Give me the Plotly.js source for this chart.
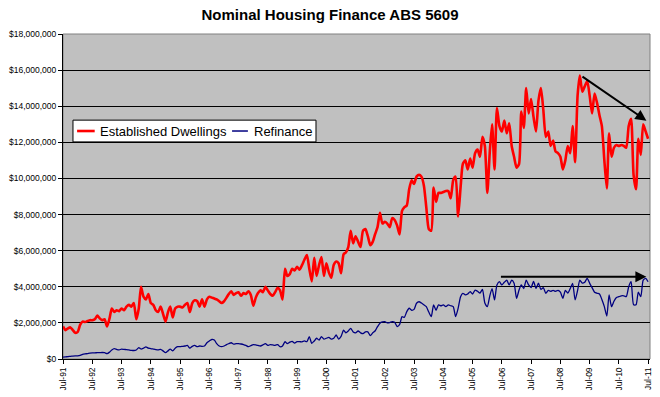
<!DOCTYPE html>
<html>
<head>
<meta charset="utf-8">
<script src="https://cdn.plot.ly/plotly-3.0.1.min.js"></script>
<style>html,body{margin:0;padding:0;background:#fff;}#chart{width:660px;height:397px;}</style>
</head>
<body>
<div id="chart"></div>
<script>
// Monthly data, Jul-1991 to Jul-2011, values in $ millions
const startYear = 1991, startMonth = 7;
const seriesNames = ["Established Dwellings", "Refinance"];
const establishedDwellings = [
  1.8, 1.6, 1.7, 1.75, 1.6, 1.45, 1.5, 1.9, 2.07, 2.05, 2.1, 2.15,
  2.15, 2.2, 2.4, 2.25, 2.15, 2.2, 1.8, 2.25, 2.8, 2.6, 2.7, 2.65,
  2.8, 2.7, 2.9, 3.0, 2.9, 3.1, 2.2, 2.8, 4.0, 3.45, 3.3, 3.6,
  3.1, 3.0, 2.7, 2.6, 2.9, 2.5, 2.07, 2.6, 2.9, 2.3, 2.8, 2.9,
  2.9, 2.85, 3.0, 3.1, 2.6, 3.1, 3.25, 3.2, 2.9, 3.3, 2.9, 3.3,
  3.45, 3.4, 3.35, 3.3, 3.2, 3.1, 3.2, 3.4, 3.6, 3.75, 3.55, 3.65,
  3.7, 3.5, 3.65, 3.6, 3.75, 3.55, 2.95, 3.4, 3.65, 3.8, 3.7, 4.0,
  3.8, 3.6, 3.5, 3.7, 3.95, 3.8, 3.3, 5.0, 4.6, 4.7, 5.0, 4.9,
  5.1, 4.95, 5.2, 5.5, 5.76, 5.0, 4.3, 5.6, 4.6, 5.2, 5.65, 4.6,
  5.3, 4.8, 4.5, 5.2, 5.4, 5.3, 4.75, 5.8, 5.9, 6.2, 7.1, 6.4,
  6.8, 6.5, 6.2, 7.1, 7.2, 6.8, 6.3, 6.5, 6.9, 7.3, 8.1, 7.5,
  7.6, 7.5, 7.3, 7.8, 7.7, 7.4, 6.9, 8.2, 8.4, 8.5, 9.4, 9.9,
  9.7, 10.1, 10.2, 10.1, 9.6, 8.4, 7.2, 7.1, 9.5, 8.7, 9.2, 9.2,
  9.25, 9.3, 9.3, 8.9, 9.9, 10.1, 7.9, 9.5, 10.8, 11.0, 10.5, 11.1,
  10.6, 11.4, 11.6, 11.2, 12.3, 11.8, 9.2, 11.5, 13.0, 10.5, 13.9, 12.9,
  12.6, 13.2, 12.5, 13.06, 11.8, 11.2, 10.6, 10.8, 13.7, 12.8, 15.0, 13.6,
  14.4, 13.4, 12.6, 14.3, 15.0, 13.8, 12.3, 12.6, 11.8, 12.1, 11.5, 11.4,
  11.2, 10.5, 11.0, 11.8, 11.4, 12.9, 10.9, 14.6, 15.7, 14.8, 15.1, 15.4,
  14.6, 13.6, 14.7, 14.2, 13.5, 12.9, 11.0, 9.45, 12.5, 11.2, 11.7, 11.85,
  11.8, 11.85, 11.8, 11.7, 12.9, 13.3, 10.2, 9.4, 12.2, 11.3, 13.0, 12.6,
  12.2
];
const refinance = [
  0.10, 0.12, 0.13, 0.15, 0.16, 0.17, 0.17, 0.2, 0.25, 0.28, 0.3, 0.33,
  0.34, 0.34, 0.35, 0.35, 0.36, 0.35, 0.3, 0.38, 0.5, 0.57, 0.53, 0.5,
  0.55, 0.53, 0.52, 0.5, 0.48, 0.47, 0.5, 0.63, 0.55, 0.6, 0.67, 0.6,
  0.58, 0.55, 0.52, 0.5, 0.53, 0.45, 0.35, 0.45, 0.55, 0.45, 0.6, 0.68,
  0.68, 0.7, 0.72, 0.75, 0.6, 0.7, 0.75, 0.68, 0.72, 0.7, 0.72, 0.9,
  1.0, 1.08, 1.05, 0.85, 0.72, 0.68, 0.72, 0.8, 0.85, 0.9, 0.82, 0.85,
  0.85, 0.83, 0.8, 0.75, 0.68, 0.74, 0.8, 0.78, 0.75, 0.72, 0.78, 0.85,
  0.75, 0.8, 0.78, 0.76, 0.8, 0.68, 0.72, 0.96, 0.85, 0.93, 0.98, 0.88,
  0.96, 0.96, 0.95, 1.0, 0.96, 1.24, 0.87, 1.0, 1.15, 1.05, 1.24, 1.1,
  1.15, 1.2, 1.1, 1.15, 1.33, 1.1, 1.25, 1.6, 1.45, 1.55, 1.7, 1.5,
  1.45, 1.55, 1.45, 1.4, 1.5, 1.5, 1.29, 1.45, 1.55, 1.79, 1.98, 2.05,
  2.07, 2.0, 2.02, 2.07, 2.03, 1.8, 1.9, 2.35, 2.3, 2.62, 2.81, 2.7,
  2.75, 3.09, 3.17, 3.1, 3.0, 2.9, 2.6, 2.35, 3.0, 2.7, 3.0, 2.95,
  3.0, 2.9, 3.0, 2.95, 2.9, 2.35, 2.8, 3.45, 3.64, 3.55, 3.6, 3.73,
  3.6, 3.82, 3.75, 3.65, 3.86, 3.1, 2.9, 3.5, 3.9, 3.27, 4.1, 4.28,
  4.1, 4.25, 4.37, 4.1, 4.37, 4.2, 3.36, 3.82, 4.1, 3.9, 4.37, 4.1,
  3.95, 4.3, 3.9, 4.2, 3.85, 3.95, 3.64, 3.8, 3.75, 3.8, 3.75, 3.8,
  3.7, 3.36, 3.8, 3.65, 3.9, 4.19, 3.27, 3.8, 4.37, 4.2, 4.25, 4.47,
  4.2, 3.95, 3.7, 3.64, 3.6, 3.3, 2.9, 2.38, 3.55, 2.9, 3.2, 3.4,
  3.45, 3.5, 3.5, 3.45, 4.0, 4.28, 3.0, 3.0, 3.7, 3.45, 4.37, 4.47,
  4.28
];
// Trend arrows drawn on the chart: [fromDate, fromValue($M), toDate, toValue($M)]
const arrowEstablished = ["2009-03-15", 15.7, "2011-06-10", 13.2];
const arrowRefinance = ["2006-06-01", 4.55, "2011-06-10", 4.55];
const yTicks = [0, 2, 4, 6, 8, 10, 12, 14, 16, 18];
const seriesColors = ["#ff0000", "#000080"];

function monthDate(k) {
  const m0 = startMonth - 1 + k;
  const y = startYear + Math.floor(m0 / 12);
  const m = (m0 % 12) + 1;
  return y + "-" + (m < 10 ? "0" + m : m) + "-01";
}
const dates = establishedDwellings.map((_, k) => monthDate(k));
const M = 1e6;

const traces = [
  {x: dates, y: establishedDwellings.map(v => v * M), type: "scatter", mode: "lines",
   name: seriesNames[0], line: {color: seriesColors[0], width: 2.6, shape: "spline", smoothing: 0.6}},
  {x: dates, y: refinance.map(v => v * M), type: "scatter", mode: "lines",
   name: seriesNames[1], line: {color: seriesColors[1], width: 1.3, shape: "spline", smoothing: 0.6}}
];

function arrow(a) {
  return {x: a[2], y: a[3] * M, ax: a[0], ay: a[1] * M, xref: "x", yref: "y", axref: "x", ayref: "y",
          text: "", showarrow: true, arrowhead: 2, arrowsize: 1.1, arrowwidth: 2, arrowcolor: "#000000"};
}

// Excel-style legend box (paper coordinates)
const legendShapes = [
  {type: "rect", xref: "paper", yref: "paper", x0: 0.017, x1: 0.431, y0: 0.668, y1: 0.735,
   line: {color: "#000000", width: 1}, fillcolor: "#ffffff"},
  {type: "line", xref: "paper", yref: "paper", x0: 0.024, x1: 0.054, y0: 0.7015, y1: 0.7015,
   line: {color: seriesColors[0], width: 2.6}},
  {type: "line", xref: "paper", yref: "paper", x0: 0.288, x1: 0.315, y0: 0.7015, y1: 0.7015,
   line: {color: seriesColors[1], width: 1.5}}
];
const legendTexts = [
  {xref: "paper", yref: "paper", x: 0.0595, y: 0.7015, xanchor: "left", yanchor: "middle",
   text: seriesNames[0], showarrow: false, font: {size: 13, color: "#000"}},
  {xref: "paper", yref: "paper", x: 0.322, y: 0.7015, xanchor: "left", yanchor: "middle",
   text: seriesNames[1], showarrow: false, font: {size: 13, color: "#000"}}
];

const layout = {
  width: 660, height: 397,
  margin: {l: 63, r: 10, t: 34, b: 38, pad: 0},
  paper_bgcolor: "#ffffff", plot_bgcolor: "#c0c0c0",
  font: {family: "Liberation Sans, Arial, sans-serif", color: "#000000"},
  title: {text: "<b>Nominal Housing Finance ABS 5609</b>", font: {size: 15, family: "Liberation Sans, Arial, sans-serif"},
          x: 0.5, xref: "container", y: 0.962, yref: "container", yanchor: "middle"},
  showlegend: false,
  xaxis: {type: "date", range: ["1991-07-01", "2011-07-25"], tick0: "1991-07-01", dtick: "M12",
          tickformat: "%b-%y", tickangle: -90, tickfont: {size: 8.5}, ticks: "outside", ticklen: 4,
          tickcolor: "#000", showgrid: false, showline: true, linecolor: "#000", linewidth: 1,
          zeroline: false, fixedrange: true},
  yaxis: {range: [0, 18 * M], tickvals: yTicks.map(v => v * M), tickformat: "$,.0f",
          tickfont: {size: 8.5}, ticks: "outside", ticklen: 4, tickcolor: "#000",
          showgrid: true, gridcolor: "#000000", gridwidth: 1, showline: true, linecolor: "#000", linewidth: 1,
          zeroline: false, fixedrange: true},
  shapes: [
    {type: "rect", xref: "paper", yref: "paper", x0: 0, x1: 1, y0: 0, y1: 1,
     line: {color: "#808080", width: 1}, fillcolor: "rgba(0,0,0,0)", layer: "below"}
  ].concat(legendShapes),
  annotations: [arrow(arrowEstablished), arrow(arrowRefinance)].concat(legendTexts)
};

Plotly.newPlot("chart", traces, layout, {staticPlot: true, displayModeBar: false});
</script>
</body>
</html>
